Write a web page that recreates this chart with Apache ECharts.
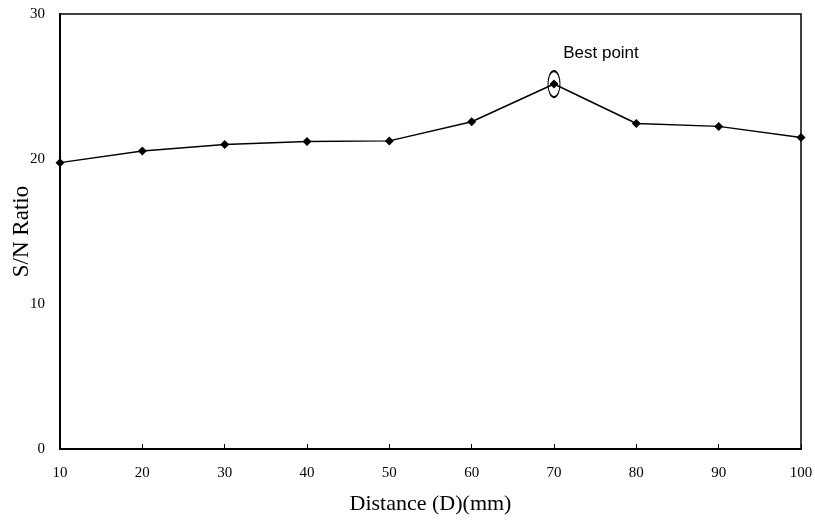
<!DOCTYPE html>
<html>
<head>
<meta charset="utf-8">
<script src="https://cdn.jsdelivr.net/npm/echarts@6/dist/echarts.min.js"></script>
<style>
html,body{margin:0;padding:0;background:#fff;}
#chart{width:815px;height:520px;}
</style>
</head>
<body>
<div id="chart"></div>
<script>
// S/N ratio vs distance
var distance = [10, 20, 30, 40, 50, 60, 70, 80, 90, 100];
var snRatio = [19.75, 20.55, 21.0, 21.2, 21.25, 22.57, 25.17, 22.45, 22.25, 21.48];
var bestIndex = 6;

var pts = [];
for (var i = 0; i < distance.length; i++) {
	pts.push([distance[i], snRatio[i]]);
}

var serif = '"Liberation Serif","Times New Roman",serif';

var chart = echarts.init(document.getElementById('chart'));
var option = {
	animation: false,
	grid: {
		left: 60, right: 14, top: 14, bottom: 71,
		outerBoundsMode: 'none', containLabel: false,
		show: true, borderColor: '#000', borderWidth: 1.5, backgroundColor: 'transparent'
	},
	xAxis: {
		type: 'value', min: 10, max: 100, interval: 10,
		name: 'Distance (D)(mm)', nameLocation: 'middle', nameGap: 44,
		nameMoveOverlap: false,
		nameTextStyle: {fontFamily: serif, fontSize: 22, color: '#000'},
		axisLine: {lineStyle: {color: '#000', width: 2}},
		axisTick: {inside: true, length: 5, lineStyle: {color: '#000'}},
		axisLabel: {fontFamily: serif, fontSize: 15, color: '#000', margin: 17},
		splitLine: {show: false}
	},
	yAxis: {
		type: 'value', min: 0, max: 30, interval: 10,
		name: 'S/N Ratio', nameLocation: 'middle', nameGap: 27,
		nameMoveOverlap: false,
		nameTextStyle: {fontFamily: serif, fontSize: 23, color: '#000'},
		axisLine: {show: true, lineStyle: {color: '#000', width: 2}},
		axisTick: {show: false},
		axisLabel: {fontFamily: serif, fontSize: 15, color: '#000', margin: 15},
		splitLine: {show: false}
	},
	series: [{
		type: 'line',
		data: pts,
		symbol: 'diamond',
		symbolSize: 9,
		itemStyle: {color: '#000'},
		lineStyle: {color: '#000', width: 1.5},
		markPoint: {
			symbol: 'path://M0,-1 A1,1 0 1,1 0,1 A1,1 0 1,1 0,-1 Z',
			symbolSize: [12, 26],
			itemStyle: {color: 'rgba(0,0,0,0)', borderColor: '#000', borderWidth: 1.5},
			label: {
				show: true, formatter: 'Best point',
				position: 'inside', offset: [47, -31],
				fontFamily: '"Liberation Sans",Arial,sans-serif', fontSize: 17, color: '#000'
			},
			data: [{coord: [distance[bestIndex], snRatio[bestIndex]]}]
		}
	}]
};
chart.setOption(option);
</script>
</body>
</html>
